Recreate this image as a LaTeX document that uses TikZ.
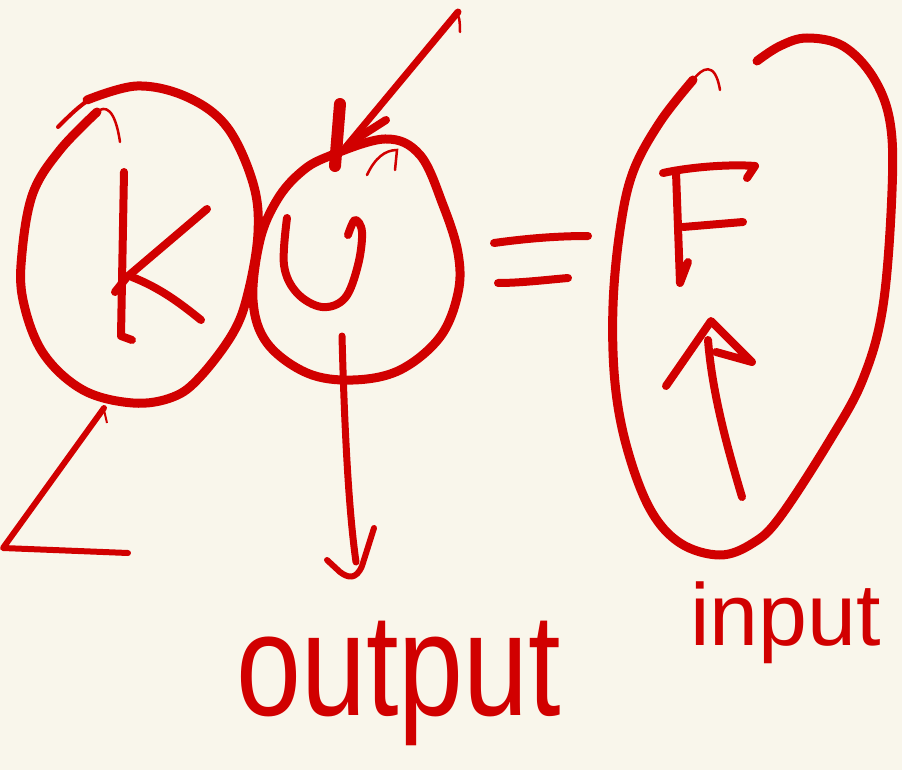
\documentclass[tikz,border=0pt]{standalone}
\usepackage{fontspec}
\setmainfont{Liberation Sans}
\definecolor{paper}{RGB}{249,246,235}
\definecolor{ink}{RGB}{209,0,0}
\begin{document}
\begin{tikzpicture}[x=1pt,y=-1pt,
  loopline/.style={draw=ink, line width=9pt, line cap=round, line join=round},
  letter/.style={draw=ink, line width=8pt, line cap=round, line join=round},
  thinline/.style={draw=ink, line width=2.5pt, line cap=round},
  handtext/.style={text=ink, inner sep=0pt, anchor=base west}]
\fill[paper] (0,0) rectangle (902,770);
\useasboundingbox (0,0) rectangle (902,770);

% K loop
\draw[loopline] plot[smooth, tension=0.6] coordinates {(87,100) (137,86) (187,97) (227,127) (253,183) (258,233) (248,293) (233,333) (200,377) (173,397) (133,403) (83,390) (43,353) (23,300) (22,253) (33,193) (60,150) (97,112)};
\draw[draw=ink, line width=4pt, line cap=round] (58,127) .. controls (70,115) and (80,105) .. (92,98);
\draw[thinline] (97,112) .. controls (105,105) and (115,108) .. (120,142);

% K letter
\coordinate (kt) at (124,172);
\coordinate (kb) at (121,336);
\draw[letter] (kt) -- (kb) -- (132,340);
\draw[letter] (207,209) -- (127,277) -- (115,292);
\draw[letter] (132,277) .. controls (160,288) and (180,303) .. (201,320);

% U loop
\draw[loopline] plot[smooth cycle, tension=0.6] coordinates {(327,157) (385,139) (420,155) (443,205) (458,253) (458,293) (440,337) (400,370) (353,380) (307,373) (267,343) (253,300) (260,240) (277,200) (300,173)};
\draw[thinline] (367,175) .. controls (375,158) and (385,150) .. (397,150) -- (395,170);

% U letter
\draw[letter] plot[smooth, tension=0.6] coordinates {(287,218) (284,265) (297,293) (322,307) (345,298) (358,265) (362,232) (355,220) (348,235)};

% top arrow
\coordinate (ta) at (458,12);
\coordinate (tb) at (345,148);
\draw[draw=ink, line width=7pt, line cap=round] (ta) -- (tb);
\draw[thinline] (450,20) .. controls (455,12) and (460,8) .. (460,32);
\draw[draw=ink, line width=12pt, line cap=round] (340,104) -- (335,166);
\draw[draw=ink, line width=8pt, line cap=round] (386,120) -- (350,143);

% down arrow (output)
\coordinate (da) at (342,336);
\coordinate (db) at (356,562);
\draw[draw=ink, line width=7pt, line cap=round] (da) .. controls (345,450) and (350,520) .. (db);
\draw[draw=ink, line width=6pt, line cap=round, line join=round] (374,528) -- (362,566) .. controls (356,580) and (348,578) .. (340,572) -- (327,560);

% ground-like line from K
\coordinate (ga) at (104,408);
\coordinate (gb) at (3,548);
\coordinate (gc) at (128,553);
\draw[draw=ink, line width=6pt, line cap=round, line join=round] (ga) -- (gb) -- (gc);
\draw[draw=ink, line width=2pt] (104,410) -- (107,423);

% equals sign
\draw[letter] (494,243) .. controls (530,238) and (560,236) .. (588,236);
\draw[letter] (498,283) .. controls (520,283) and (545,280) .. (568,278);

% F loop
\draw[loopline] plot[smooth, tension=0.6] coordinates {(693,80) (660,122) (633,172) (620,230) (613,306) (615,383) (627,448) (650,509) (680,543) (720,555) (753,543) (780,517) (830,440) (863,379) (883,306) (892,191) (890,122) (873,77) (843,46) (807,38) (780,46) (757,61)};
\draw[thinline] (693,80) .. controls (702,68) and (715,60) .. (720,90);

% F letter
\draw[letter] (663,173) .. controls (690,167) and (730,164) .. (755,166) -- (747,178);
\draw[letter] (676,172) -- (680,283) -- (688,262);
\draw[letter] (683,227) -- (743,222);

% up arrow in F
\coordinate (ua) at (742,497);
\coordinate (ub) at (708,340);
\draw[draw=ink, line width=8pt, line cap=round] (ua) .. controls (725,440) and (712,390) .. (ub);
\draw[letter] (666,386) -- (711,321) -- (752,362) -- (716,352);

% labels
\node[handtext, font=\fontsize{146}{146}\selectfont] (outtext) at (236,715) {\scalebox{0.8}[1]{output}};
\node[handtext, font=\fontsize{88}{88}\selectfont] (intext) at (690,645) {input};
\end{tikzpicture}
\end{document}
